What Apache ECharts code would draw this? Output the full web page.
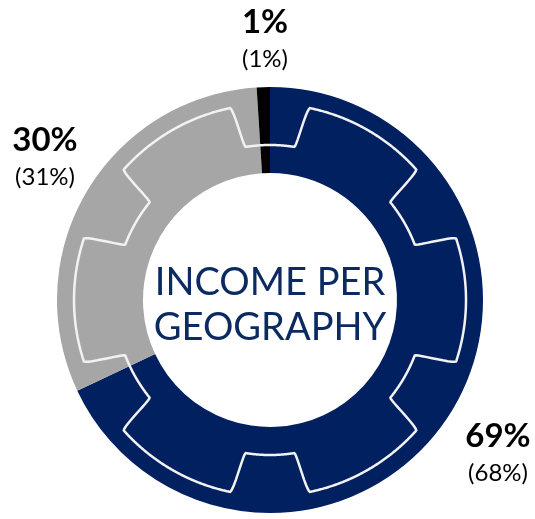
<!DOCTYPE html>
<html>
<head>
<meta charset="utf-8">
<script src="https://cdn.jsdelivr.net/npm/echarts@6/dist/echarts.min.js"></script>
<style>
  html, body { margin: 0; padding: 0; background: #fff; }
  #chart { width: 535px; height: 519px; }
</style>
</head>
<body>
<div id="chart"></div>
<script>
// slices, clockwise from 12 o'clock
const regions = ['Region A', 'Region B', 'Region C']
const shares = [68, 31, 1]
const mainLabels = ['69%', '30%', '1%']
const subLabels = ['(68%)', '(31%)', '(1%)']
const sliceColors = ['#002060', '#a6a6a6', '#000000']
const titleLines = ['INCOME PER', 'GEOGRAPHY']

// layout
const CX = 270
const CY = 300
const R_IN = 127
const R_OUT = 213
// centre of each label block (same order as slices)
const labelPos = [[498, 455], [45, 159], [265, 41]]

// gear outline drawn inside the ring (decoration only)
function gearPoints() {
  const teeth = 6
  const rTop = 196
  const rRoot = 155
  const inner = 9      // half width of notch at root, deg
  const outer = 11.8   // half width of notch at tip, deg
  const pts = []
  for (let i = 0; i <= 1440; i++) {
    const deg = i / 4
    // angular distance to nearest notch centre (notches at 90 + k*60)
    let d = ((deg - 90) % (360 / teeth) + 360) % (360 / teeth)
    if (d > 180 / teeth) d = 360 / teeth - d
    let t
    if (d <= inner) t = 0
    else if (d >= outer) t = 1
    else {
      const u = (d - inner) / (outer - inner)
      t = u * u * (3 - 2 * u)
    }
    const r = rRoot + (rTop - rRoot) * t
    const a = deg * Math.PI / 180
    pts.push([CX + r * Math.cos(a), CY - r * Math.sin(a)])
  }
  return pts
}

const chart = echarts.init(document.getElementById('chart'))

chart.setOption({
  animation: false,
  backgroundColor: '#fff',
  series: [
    {
      type: 'pie',
      center: [CX, CY],
      radius: [R_IN, R_OUT],
      startAngle: 90,
      clockwise: true,
      silent: true,
      itemStyle: { borderWidth: 0 },
      label: {
        show: true,
        position: 'outside',
        overflow: 'none',
        fontFamily: 'Lato',
        color: '#000',
        formatter: (p) => `{b|${mainLabels[p.dataIndex]}}\n{s|${subLabels[p.dataIndex]}}`,
        rich: {
          b: { fontSize: 33, fontWeight: 'bold', fontFamily: 'Lato', color: '#000', lineHeight: 37, align: 'center' },
          s: { fontSize: 24, fontFamily: 'Lato', color: '#000', lineHeight: 37, align: 'center' }
        }
      },
      labelLine: { show: false },
      labelLayout: (p) => ({
        x: labelPos[p.dataIndex][0],
        y: labelPos[p.dataIndex][1],
        align: 'center',
        verticalAlign: 'middle'
      }),
      data: regions.map((name, i) => ({
        name,
        value: shares[i],
        itemStyle: { color: sliceColors[i] }
      }))
    }
  ],
  graphic: [
    {
      type: 'polyline',
      z: 100,
      silent: true,
      shape: { points: gearPoints() },
      style: { stroke: '#f2f2f2', lineWidth: 2.5, fill: null }
    },
    {
      type: 'text',
      z: 100,
      x: CX,
      y: CY + 5,
      style: {
        text: titleLines.join('\n'),
        fontFamily: 'Lato',
        fontSize: 38,
        lineHeight: 45,
        fill: '#0b2a62',
        align: 'center',
        verticalAlign: 'middle'
      }
    }
  ]
})
</script>
</body>
</html>
